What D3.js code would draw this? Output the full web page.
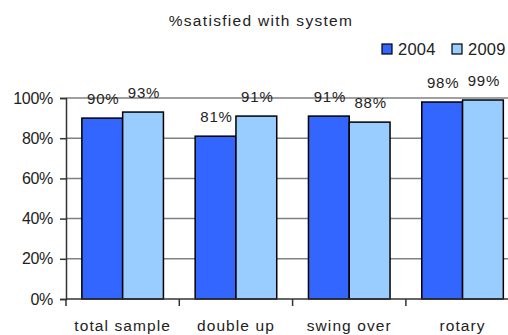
<!DOCTYPE html>
<html>
<head>
<meta charset="utf-8">
<script src="https://cdn.jsdelivr.net/npm/d3@7"></script>
<style>
  html, body { margin: 0; padding: 0; background: #fff; }
  svg { display: block; font-family: "Liberation Sans", Arial, sans-serif; }
</style>
</head>
<body>
<svg id="chart" width="508" height="335"></svg>
<script>
// Survey categories and satisfaction percentages per year
const categories = ["total sample", "double up", "swing over", "rotary"];
const series = ["2004", "2009"];
const values2004 = [90, 81, 91, 98];
const values2009 = [93, 91, 88, 99];
const yTicks = [0, 20, 40, 60, 80, 100];
const colors = ["#3366FF", "#99CCFF"];

const svg = d3.select("#chart");
const W = 508, H = 335;
const FONT = "'Liberation Sans', Arial, sans-serif";
const margin = { left: 66 };
const step = 113.3;
const plotRight = margin.left + step * categories.length;

const x = d3.scaleBand()
  .domain(categories)
  .range([margin.left, plotRight])
  .paddingInner(0.28)
  .paddingOuter(0.14);

const xs = d3.scaleBand().domain(series).range([0, x.bandwidth()]);

const y = d3.scaleLinear().domain([0, 100]).range([299, 98]);

// Horizontal gridlines
svg.append("g")
  .selectAll("line")
  .data(yTicks.filter(d => d > 0))
  .join("line")
  .attr("x1", margin.left).attr("x2", W)
  .attr("y1", d => y(d)).attr("y2", d => y(d))
  .attr("stroke", "#808080").attr("stroke-width", 1.5);

// Bars
const rows = categories.map((c, i) => ({ cat: c, vals: [values2004[i], values2009[i]] }));
const groups = svg.append("g").selectAll("g")
  .data(rows).join("g")
  .attr("transform", d => `translate(${x(d.cat)},0)`);

groups.selectAll("rect")
  .data(d => d.vals.map((v, j) => ({ s: series[j], v, j })))
  .join("rect")
  .attr("x", d => xs(d.s))
  .attr("y", d => y(d.v))
  .attr("width", xs.bandwidth())
  .attr("height", d => y(0) - y(d.v))
  .attr("fill", d => colors[d.j])
  .attr("stroke", "#000").attr("stroke-width", 1.5);

groups.selectAll("text")
  .data(d => d.vals.map((v, j) => ({ s: series[j], v, j })))
  .join("text")
  .attr("x", d => xs(d.s) + xs.bandwidth() / 2 + 1)
  .attr("y", d => y(d.v) - 14)
  .attr("text-anchor", "middle")
  .attr("font-size", 15)
  .attr("letter-spacing", 0.8)
  .attr("fill", "#222")
  .text(d => d.v + "%");

// Y axis
const yAxis = svg.append("g")
  .attr("transform", `translate(${margin.left},0)`)
  .call(d3.axisLeft(y).tickValues(yTicks).tickFormat(d => d + "%").tickSize(6).tickPadding(7));
yAxis.attr("font-family", FONT);
yAxis.select(".domain").attr("stroke", "#333").attr("stroke-width", 1.5);
yAxis.selectAll(".tick line").attr("stroke", "#333").attr("stroke-width", 1.5);
yAxis.selectAll("text")
  .attr("font-size", 16).attr("fill", "#222")
  .attr("letter-spacing", -0.3);

// X axis baseline with boundary ticks between categories
const xAxis = svg.append("g");
xAxis.append("line")
  .attr("x1", margin.left).attr("x2", W)
  .attr("y1", y(0)).attr("y2", y(0))
  .attr("stroke", "#333").attr("stroke-width", 1.5);
xAxis.selectAll("line.b")
  .data(categories)
  .join("line")
  .attr("class", "b")
  .attr("x1", d => x(d) - x.step() * x.paddingOuter())
  .attr("x2", d => x(d) - x.step() * x.paddingOuter())
  .attr("y1", y(0)).attr("y2", y(0) + 7)
  .attr("stroke", "#333").attr("stroke-width", 1.5);
xAxis.selectAll("text")
  .data(categories)
  .join("text")
  .attr("x", d => x(d) + x.bandwidth() / 2)
  .attr("y", 331)
  .attr("text-anchor", "middle")
  .attr("font-size", 15.5)
  .attr("letter-spacing", 1.1)
  .attr("fill", "#222")
  .text(d => d);

// Title
svg.append("text")
  .attr("x", 261).attr("y", 26)
  .attr("text-anchor", "middle")
  .attr("font-size", 15.5)
  .attr("letter-spacing", 1.3)
  .attr("fill", "#222")
  .text("%satisfied with system");

// Legend
const legend = svg.append("g").attr("transform", "translate(382,44)");
const li = legend.selectAll("g").data(series).join("g")
  .attr("transform", (d, i) => `translate(${i * 70},0)`);
li.append("rect")
  .attr("width", 10).attr("height", 10)
  .attr("fill", (d, i) => colors[i])
  .attr("stroke", "#000").attr("stroke-width", 1.2);
li.append("text")
  .attr("x", 16).attr("y", 11)
  .attr("font-size", 16.5)
  .attr("letter-spacing", 0.2)
  .attr("fill", "#222")
  .text(d => d);
</script>
</body>
</html>
